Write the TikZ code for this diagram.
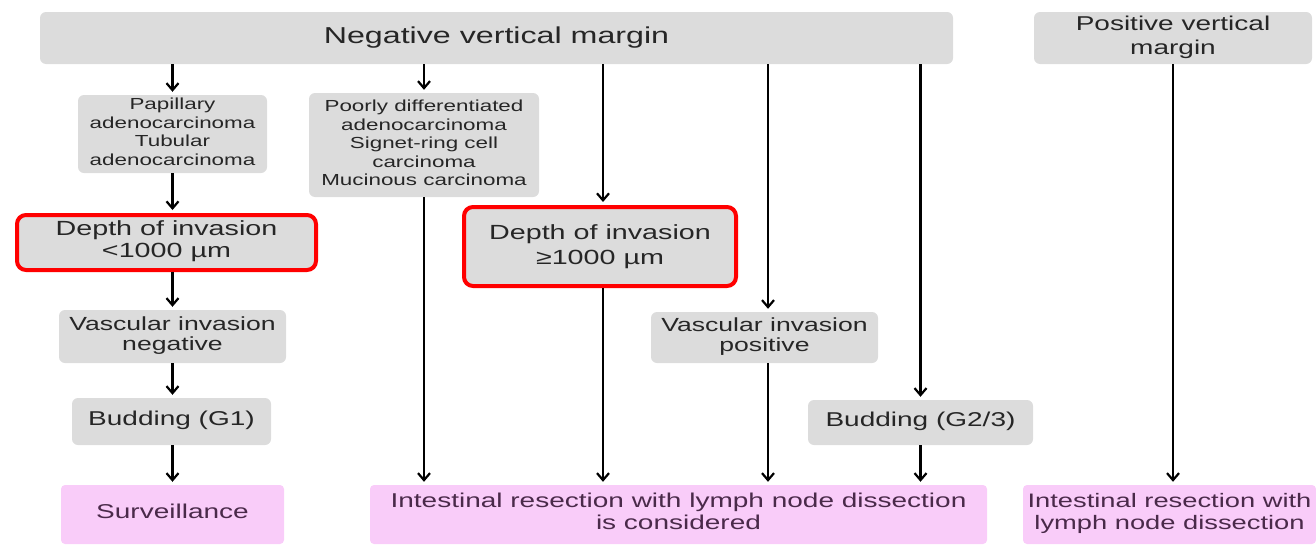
\documentclass[tikz,border=0pt]{standalone}
\usepackage{fontspec}
\setmainfont{Liberation Sans}
\usepackage{graphicx}
\usetikzlibrary{arrows.meta}
\definecolor{boxgray}{HTML}{DCDCDC}
\definecolor{pinkfill}{HTML}{F9CCF9}
\definecolor{txtgray}{HTML}{262626}
\definecolor{txtpurple}{HTML}{4A2A4A}
\definecolor{redline}{HTML}{FF0000}
\newcommand{\wtxt}[3]{\scalebox{1.4}[1]{\fontsize{#1}{#2}\selectfont\begin{tabular}{@{}c@{}}#3\end{tabular}}}
\tikzset{
  gbox/.style={fill=boxgray, rounded corners=6pt, inner sep=0pt, text=txtgray},
  pbox/.style={fill=pinkfill, rounded corners=4pt, inner sep=0pt, text=txtpurple},
  redbox/.style={gbox, draw=redline, line width=4pt, rounded corners=9pt},
  arr/.style={line width=2.6pt, -{Straight Barb[length=7pt,width=12pt,line width=2.2pt]}, shorten >=3pt},
}
\begin{document}
\begin{tikzpicture}[x=1pt,y=-1pt]
\useasboundingbox (0,0) rectangle (1316,546);
% top row
\node[gbox, minimum width=913pt, minimum height=52pt] (neg) at (496.5,38) {\raisebox{-2pt}{\wtxt{23}{26}{Negative vertical margin}}};
\node[gbox, minimum width=278pt, minimum height=52pt] (pos) at (1173,38) {\wtxt{20}{24}{Positive vertical\\margin}};
% second row
\node[gbox, minimum width=189pt, minimum height=78pt] (pap) at (172.5,134) {\wtxt{16}{18.5}{Papillary\\adenocarcinoma\\Tubular\\adenocarcinoma}};
\node[gbox, minimum width=230pt, minimum height=104pt] (poor) at (424,145) {\wtxt{16}{18.5}{Poorly differentiated\\adenocarcinoma\\Signet-ring cell\\carcinoma\\Mucinous carcinoma}};
% depth boxes
\node[redbox, minimum width=299pt, minimum height=55pt] (d1) at (166.5,242.5) {\wtxt{20.5}{22}{Depth of invasion\\<1000 µm}};
\node[redbox, minimum width=272pt, minimum height=79pt] (d2) at (600,246.5) {\wtxt{20.5}{25}{Depth of invasion\\≥1000 µm}};
% vascular
\node[gbox, minimum width=227pt, minimum height=53pt] (vn) at (172.5,336.5) {\wtxt{19}{20.5}{Vascular invasion\\negative}};
\node[gbox, minimum width=227pt, minimum height=51pt] (vp) at (764.5,337.5) {\wtxt{19}{20.5}{Vascular invasion\\positive}};
% budding
\node[gbox, minimum width=199pt, minimum height=47pt] (b1) at (171.5,421.5) {\wtxt{20}{22}{Budding (G1)}};
\node[gbox, minimum width=225pt, minimum height=45pt] (b2) at (920.5,422.5) {\wtxt{20}{22}{Budding (G2/3)}};
% outcomes
\node[pbox, minimum width=223pt, minimum height=59pt] (surv) at (172.5,514.5) {\wtxt{20}{22}{Surveillance}};
\node[pbox, minimum width=617pt, minimum height=59pt] (int) at (678.5,514.5) {\wtxt{20}{22}{Intestinal resection with lymph node dissection\\is considered}};
\node[pbox, minimum width=293pt, minimum height=59pt] (intr) at (1169.5,514.5) {\wtxt{19.5}{22}{Intestinal resection with\\lymph node dissection}};
% coordinates for columns
\coordinate (c603) at (603,0);
\coordinate (c768) at (768,0);
% arrows: left column
\draw[arr] (neg.south -| pap.north) -- (pap.north);
\draw[arr] (pap.south) -- (pap.south |- d1.north);
\draw[arr] (d1.south -| pap.south) -- (vn.north -| pap.south);
\draw[arr] (vn.south -| pap.south) -- (b1.north -| pap.south);
\draw[arr] (b1.south -| pap.south) -- (surv.north -| pap.south);
% poorly column
\draw[arr] (neg.south -| poor.north) -- (poor.north);
\draw[arr] (poor.south) -- (poor.south |- int.north);
% depth >= column
\draw[arr] (neg.south -| c603) -- (d2.north -| c603);
\draw[arr] (d2.south -| c603) -- (int.north -| c603);
% vascular positive column
\draw[arr] (neg.south -| c768) -- (vp.north -| c768);
\draw[arr] (vp.south -| c768) -- (int.north -| c768);
% budding G2/3 column
\draw[arr] (neg.south -| b2.north) -- (b2.north);
\draw[arr] (b2.south) -- (b2.south |- int.north);
% positive margin
\draw[arr] (pos.south) -- (pos.south |- intr.north);
\end{tikzpicture}
\end{document}
